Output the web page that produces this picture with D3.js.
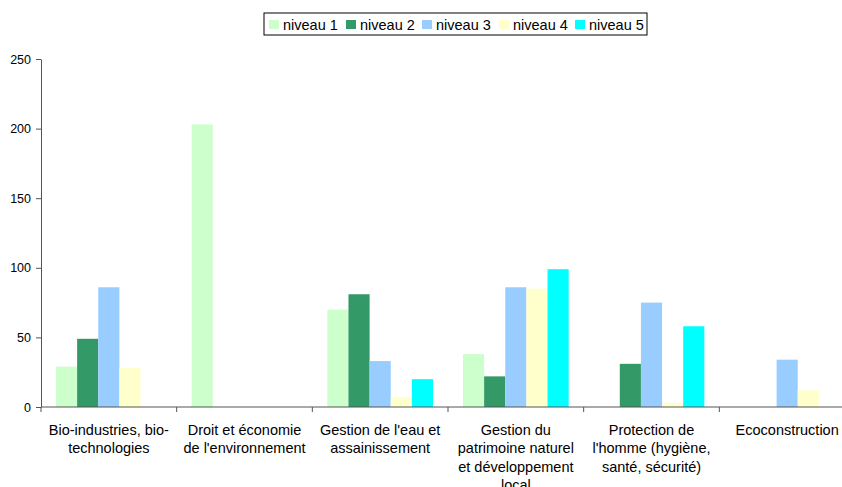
<!DOCTYPE html>
<html>
<head>
<meta charset="utf-8">
<script src="https://cdn.jsdelivr.net/npm/d3@7"></script>
<style>
  body { margin: 0; background: #fff; }
  svg { font-family: "Liberation Sans", Arial, sans-serif; }
</style>
</head>
<body>
<svg id="chart"></svg>
<script>
const width = 842;
const height = 487;

// categories, with the line breaks used in the picture
const categories = [
  ["Bio-industries, bio-", "technologies"],
  ["Droit et économie", "de l'environnement"],
  ["Gestion de l'eau et", "assainissement"],
  ["Gestion du", "patrimoine naturel", "et développement", "local"],
  ["Protection de", "l'homme (hygiène,", "santé, sécurité)"],
  ["Ecoconstruction"]
];
const seriesNames = ["niveau 1", "niveau 2", "niveau 3", "niveau 4", "niveau 5"];
const seriesColors = ["#ccffcc", "#339966", "#99ccff", "#ffffcc", "#00ffff"];

const niveau1 = [29, 203, 70, 38, 0, 0];
const niveau2 = [49, 0, 81, 22, 31, 0];
const niveau3 = [86, 0, 33, 86, 75, 34];
const niveau4 = [28, 0, 7, 85, 3, 12];
const niveau5 = [0, 0, 20, 99, 58, 0];
const series = [niveau1, niveau2, niveau3, niveau4, niveau5];

const yTicks = [0, 50, 100, 150, 200, 250];

const margin = {left: 41, top: 59, bottom: 80};
const plotRight = 855;

let svg = d3.select("#chart")
  .attr("width", width)
  .attr("height", height);

const x0 = d3.scaleBand()
  .domain(d3.range(categories.length))
  .range([margin.left, plotRight])
  .paddingInner(0)
  .paddingOuter(0);

const x1 = d3.scaleBand()
  .domain(d3.range(seriesNames.length))
  .range([15, x0.bandwidth() - 15]);

const y = d3.scaleLinear()
  .domain([0, 250])
  .range([height - margin.bottom, margin.top]);

// bars
const groups = svg.append("g")
  .selectAll("g")
  .data(categories.map((c, i) => i))
  .join("g")
  .attr("transform", d => `translate(${x0(d)},0)`);

groups.selectAll("rect")
  .data(ci => series.map((s, si) => ({si: si, v: s[ci]})))
  .join("rect")
  .attr("x", d => x1(d.si))
  .attr("width", x1.bandwidth())
  .attr("y", d => y(d.v))
  .attr("height", d => y(0) - y(d.v))
  .style("fill", d => seriesColors[d.si]);

// y axis
const yAxis = svg.append("g")
  .attr("transform", `translate(${margin.left},0)`)
  .call(d3.axisLeft(y).tickValues(yTicks).tickSize(5).tickPadding(5).tickSizeOuter(0));
yAxis.select(".domain").style("stroke", "#555");
yAxis.selectAll(".tick line").style("stroke", "#555");
yAxis.selectAll("text").style("font-size", "12.5px").style("fill", "#000")
  .style("font-family", "'Liberation Sans', Arial, sans-serif");

// x axis with category boundary ticks
const xg = svg.append("g");
xg.append("line")
  .attr("x1", margin.left)
  .attr("x2", plotRight)
  .attr("y1", y(0))
  .attr("y2", y(0))
  .style("stroke", "#555");
xg.selectAll("line.bound")
  .data(d3.range(categories.length + 1))
  .join("line")
  .attr("class", "bound")
  .attr("x1", d => d < categories.length ? x0(d) : plotRight)
  .attr("x2", d => d < categories.length ? x0(d) : plotRight)
  .attr("y1", y(0))
  .attr("y2", y(0) + 5)
  .style("stroke", "#555");

const labels = xg.selectAll("text")
  .data(categories)
  .join("text")
  .attr("text-anchor", "middle")
  .style("font-size", "14.5px")
  .attr("transform", (d, i) => `translate(${x0(i) + x0.bandwidth() / 2},${y(0) + 28})`);
labels.selectAll("tspan")
  .data(d => d)
  .join("tspan")
  .attr("x", 0)
  .attr("y", (d, i) => i * 18.3)
  .text(d => d);

// legend
const legend = svg.append("g").attr("transform", "translate(264,13)");
legend.append("rect")
  .attr("width", 383)
  .attr("height", 22)
  .style("fill", "#fff")
  .style("stroke", "#000")
  .style("stroke-width", 1);

const legX = [5, 82, 158, 235, 311];
const item = legend.selectAll("g.item")
  .data(seriesNames)
  .join("g")
  .attr("class", "item")
  .attr("transform", (d, i) => `translate(${legX[i]},0)`);
item.append("rect")
  .attr("x", 0)
  .attr("y", 7)
  .attr("width", 10)
  .attr("height", 9)
  .style("fill", (d, i) => seriesColors[i]);
item.append("text")
  .attr("x", 14)
  .attr("y", 16.5)
  .style("font-size", "14.5px")
  .text(d => d);
</script>
</body>
</html>
